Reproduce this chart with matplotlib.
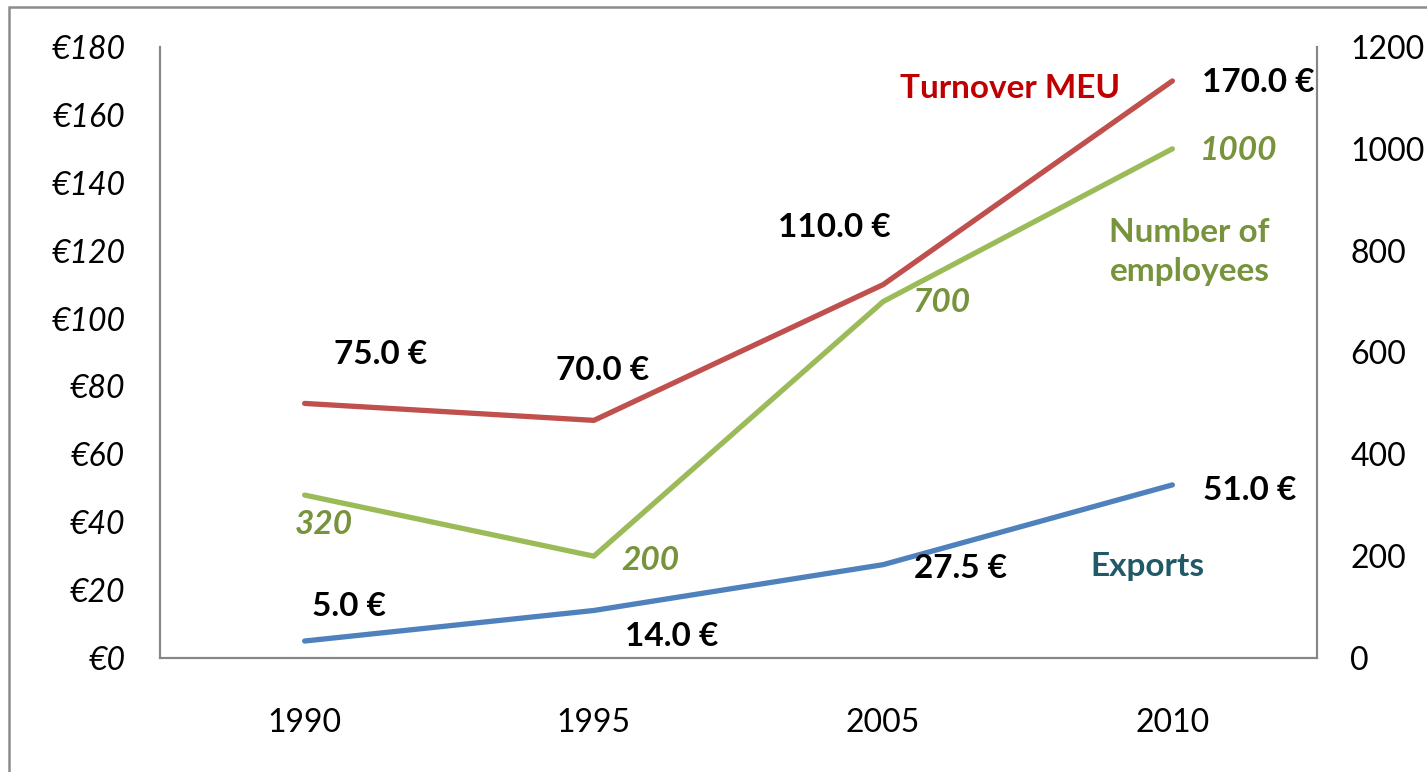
import matplotlib
matplotlib.use('Agg')
from matplotlib import pyplot as plt
from matplotlib.patches import Rectangle

plt.rcParams['font.family'] = ['Lato', 'DejaVu Sans']

years = ['1990', '1995', '2005', '2010']
turnover = [75.0, 70.0, 110.0, 170.0]
exports = [5.0, 14.0, 27.5, 51.0]
employees = [320, 200, 700, 1000]

left_ticks = [0, 20, 40, 60, 80, 100, 120, 140, 160, 180]
right_ticks = [0, 200, 400, 600, 800, 1000, 1200]

RED = '#C0504D'
GREEN = '#9BBB59'
BLUE = '#4F81BD'
GREY = '#868686'

# label offsets in points from each point
turn_off = [(55, 35), (6, 36), (-35, 41), (62, -1)]
exp_off = [(32, 25), (56, -19), (56, -3), (56, -4)]
emp_off = [(14, -21), (41, -3), (42, -1), (48, -1)]

fig = plt.figure(figsize=(14.27, 7.72), dpi=100)
fig.patches.append(Rectangle((9 / 1427, -0.05), 1.1, 1 - 7 / 772 + 0.05,
                             transform=fig.transFigure, fill=False,
                             edgecolor='#8C8C8C', linewidth=1.8))

ax = fig.add_axes([160 / 1427, 1 - 658 / 772, 1157 / 1427, 611 / 772])
ax2 = ax.twinx()

x = list(range(len(years)))
ax.plot(x, turnover, color=RED, lw=3.8, solid_capstyle='round', zorder=3)
ax.plot(x, exports, color=BLUE, lw=3.8, solid_capstyle='round', zorder=3)
ax2.plot(x, employees, color=GREEN, lw=3.8, solid_capstyle='round')

ax.set_xlim(-0.5, len(years) - 0.5)
ax.set_ylim(0, 180)
ax2.set_ylim(0, 1200)
ax.set_xticks(x)
ax.set_xticklabels(years)
ax.set_yticks(left_ticks)
ax.set_yticklabels(['€%d' % v for v in left_ticks], fontstyle='italic')
ax2.set_yticks(right_ticks)
ax2.set_yticklabels([str(v) for v in right_ticks])

ax.tick_params(axis='y', length=0, pad=25, labelsize=23)
ax.tick_params(axis='x', length=0, pad=36, labelsize=23)
ax2.tick_params(axis='y', length=0, pad=24, labelsize=23)

for a in (ax, ax2):
    a.spines['top'].set_visible(False)
    for s in ('left', 'right', 'bottom'):
        a.spines[s].set_color(GREY)
        a.spines[s].set_linewidth(1.5)

LBL = 24
for i, v in enumerate(turnover):
    ax.annotate('%.1f €' % v, (x[i], v), xytext=turn_off[i],
                textcoords='offset points', ha='center', va='center',
                fontsize=LBL, fontweight='bold', color='black')
for i, v in enumerate(exports):
    ax.annotate('%.1f €' % v, (x[i], v), xytext=exp_off[i],
                textcoords='offset points', ha='center', va='center',
                fontsize=LBL, fontweight='bold', color='black')
for i, v in enumerate(employees):
    ax2.annotate(str(v), (x[i], v), xytext=emp_off[i],
                 textcoords='offset points', ha='center', va='center',
                 fontsize=LBL, fontweight='bold', fontstyle='italic',
                 color='#77933C')

ax.text(2.44, 167.9, 'Turnover MEU', ha='center', va='center',
        fontsize=LBL, fontweight='bold', color='#C00000')
ax.text(3.06, 119.6, 'Number of\nemployees', ha='center', va='center',
        fontsize=LBL, fontweight='bold', color='#77933C', linespacing=1.45)
ax.text(2.914, 27.1, 'Exports', ha='center', va='center',
        fontsize=LBL, fontweight='bold', color='#215968')

fig.savefig('out.png', dpi=100)
